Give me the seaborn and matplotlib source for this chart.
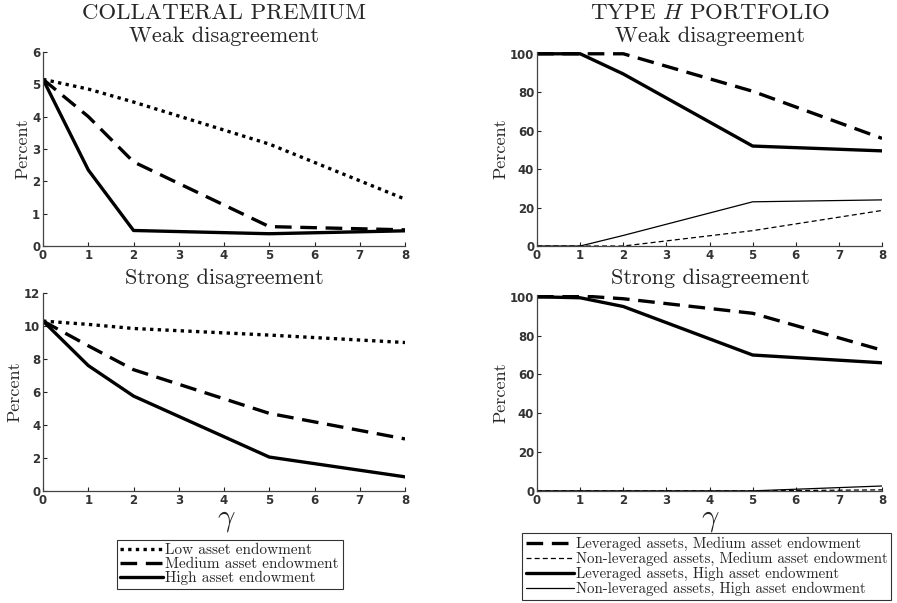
import matplotlib
matplotlib.use("Agg")
import matplotlib.pyplot as plt
import seaborn as sns
import pandas as pd
from matplotlib.lines import Line2D

gamma = [0, 1, 2, 5, 8]

# Collateral premium, weak disagreement
cp_weak_low = [5.15, 4.85, 4.45, 3.15, 1.45]
cp_weak_med = [5.15, 4.0, 2.6, 0.6, 0.5]
cp_weak_high = [5.15, 2.35, 0.48, 0.38, 0.47]
# Collateral premium, strong disagreement
cp_strong_low = [10.3, 10.1, 9.85, 9.45, 9.0]
cp_strong_med = [10.3, 8.8, 7.35, 4.7, 3.15]
cp_strong_high = [10.3, 7.6, 5.75, 2.05, 0.85]

# Type H portfolio, weak disagreement
ph_weak_lev_med = [100, 100, 100, 80.5, 56]
ph_weak_non_med = [0, 0, 0, 8, 18.5]
ph_weak_lev_high = [100, 100, 89.5, 52, 49.5]
ph_weak_non_high = [0, 0, 5.5, 23, 24]
# Type H portfolio, strong disagreement
ph_strong_lev_med = [100, 100.5, 99, 91.5, 72.5]
ph_strong_non_med = [0, 0, 0, 0, 0.5]
ph_strong_lev_high = [100, 99.5, 95, 70, 66]
ph_strong_non_high = [0, 0, 0, 0, 2.5]

left_labels = ["Low asset endowment", "Medium asset endowment", "High asset endowment"]
right_labels = ["Leveraged assets, Medium asset endowment",
                "Non-leveraged assets, Medium asset endowment",
                "Leveraged assets, High asset endowment",
                "Non-leveraged assets, High asset endowment"]

sns.set_theme(style="ticks")
plt.rcParams["font.family"] = ["DejaVu Sans"]
plt.rcParams["mathtext.fontset"] = "cm"
plt.rcParams["axes.unicode_minus"] = False

SERIF = ["cmr10", "DejaVu Serif"]

DOT = (0, (1.0, 1.3))
DASH = (0, (5, 2.6))
THINDASH = (0, (4, 2.5))

left_styles = [dict(linestyle=DOT, linewidth=2.4),
               dict(linestyle=DASH, linewidth=2.4),
               dict(linestyle="-", linewidth=2.4)]
right_styles = [dict(linestyle=DASH, linewidth=2.4),
                dict(linestyle=THINDASH, linewidth=0.9),
                dict(linestyle="-", linewidth=2.4),
                dict(linestyle="-", linewidth=0.9)]

fig = plt.figure(figsize=(8.97, 6.03), dpi=100)
ax_lt = fig.add_axes([0.048, 0.592, 0.4035, 0.322])
ax_lb = fig.add_axes([0.048, 0.186, 0.4035, 0.328])
ax_rt = fig.add_axes([0.5987, 0.592, 0.3846, 0.322])
ax_rb = fig.add_axes([0.5987, 0.186, 0.3846, 0.325])


def draw(ax, series, styles, ylim, yticks):
    for vals, st in zip(series, styles):
        df = pd.DataFrame({"gamma": gamma, "value": vals})
        sns.lineplot(data=df, x="gamma", y="value", ax=ax, color="black",
                     estimator=None, **st)
    ax.set_xlim(0, 8)
    ax.set_ylim(*ylim)
    ax.set_xticks(range(0, 9))
    ax.set_yticks(yticks)
    ax.tick_params(direction="in", length=3, width=0.8, labelsize=8.5,
                   colors="#222222", pad=2)
    for lab in ax.get_xticklabels() + ax.get_yticklabels():
        lab.set_fontweight("bold")
        lab.set_color("#333333")
    sns.despine(ax=ax)
    for sp in ["left", "bottom"]:
        ax.spines[sp].set_color("#444444")
        ax.spines[sp].set_linewidth(0.9)
    ax.set_xlabel("")
    ax.set_ylabel("Percent", family=SERIF, fontsize=13, labelpad=1)


draw(ax_lt, [cp_weak_low, cp_weak_med, cp_weak_high], left_styles, (0, 6), range(0, 7))
draw(ax_lb, [cp_strong_low, cp_strong_med, cp_strong_high], left_styles, (0, 12), range(0, 13, 2))
draw(ax_rt, [ph_weak_lev_med, ph_weak_non_med, ph_weak_lev_high, ph_weak_non_high],
     right_styles, (0, 101), range(0, 101, 20))
draw(ax_rb, [ph_strong_lev_med, ph_strong_non_med, ph_strong_lev_high, ph_strong_non_high],
     right_styles, (0, 101), range(0, 101, 20))

# Titles
fig.text(0.250, 0.978, "COLLATERAL PREMIUM", family=SERIF, fontsize=16.5, ha="center", va="center")
fig.text(0.250, 0.940, "Weak disagreement", family=SERIF, fontsize=16, ha="center", va="center")
fig.text(0.250, 0.538, "Strong disagreement", family=SERIF, fontsize=16, ha="center", va="center")
fig.text(0.792, 0.978, "TYPE $H$ PORTFOLIO", family=SERIF, fontsize=16.5, ha="center", va="center")
fig.text(0.792, 0.940, "Weak disagreement", family=SERIF, fontsize=16, ha="center", va="center")
fig.text(0.792, 0.538, "Strong disagreement", family=SERIF, fontsize=16, ha="center", va="center")

# x labels
fig.text(0.252, 0.138, r"$\gamma$", fontsize=22, ha="center", va="center")
fig.text(0.792, 0.138, r"$\gamma$", fontsize=22, ha="center", va="center")

# Legends
lh = [Line2D([], [], color="black", **st) for st in left_styles]
leg1 = fig.legend(lh, left_labels, loc="center", bbox_to_anchor=(0.256, 0.064),
                  prop={"family": SERIF, "size": 11}, frameon=True, fancybox=False,
                  handlelength=2.8, handletextpad=0.15, labelspacing=0.0,
                  borderpad=0.25, borderaxespad=0)
leg1.get_frame().set_edgecolor("black")
leg1.get_frame().set_linewidth(0.8)

rh = [Line2D([], [], color="black", **st) for st in right_styles]
leg2 = fig.legend(rh, right_labels, loc="center", bbox_to_anchor=(0.788, 0.061),
                  prop={"family": SERIF, "size": 10.7}, frameon=True, fancybox=False,
                  handlelength=3.2, handletextpad=0.15, labelspacing=0.05,
                  borderpad=0.25, borderaxespad=0)
leg2.get_frame().set_edgecolor("black")
leg2.get_frame().set_linewidth(0.8)

fig.savefig("out.png", dpi=100, facecolor="white")
